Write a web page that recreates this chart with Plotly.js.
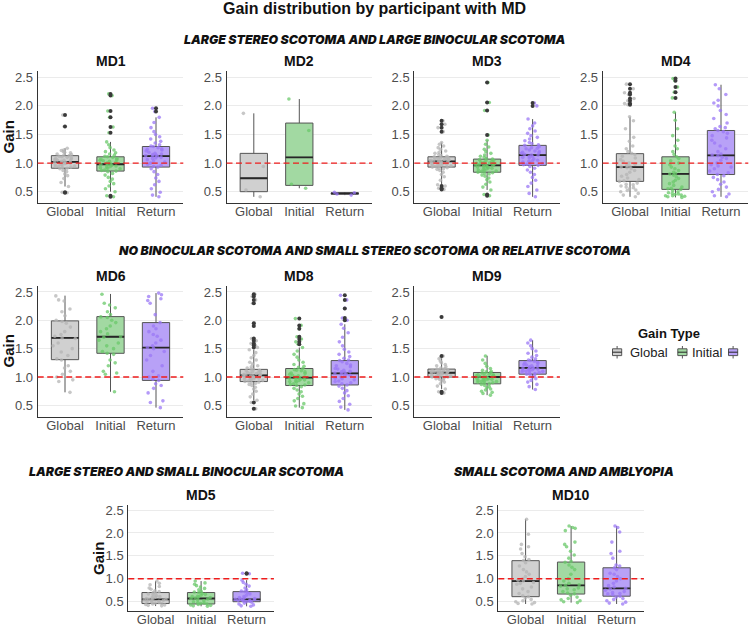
<!DOCTYPE html>
<html>
<head>
<meta charset="utf-8">
<script src="https://cdn.plot.ly/plotly-3.0.1.min.js"></script>
<style>
  html, body { margin: 0; padding: 0; background: #ffffff; }
  #chart { width: 750px; height: 626px; }
</style>
</head>
<body>
<div id="chart"></div>
<script>
// ---------- data ----------
const gainTypes = ['Global', 'Initial', 'Return'];
const yTicks = [0.5, 1.0, 1.5, 2.0, 2.5];
const yTickText = ['0.5', '1.0', '1.5', '2.0', '2.5'];
const referenceGain = 1.0;

// box statistics per gain type: [q1, median, q3, lower whisker, upper whisker]
const md1_box  = [[0.91, 1.02, 1.13, 0.59, 1.26], [0.86, 0.98, 1.11, 0.50, 1.37], [0.93, 1.12, 1.29, 0.41, 1.80]];
const md2_box  = [[0.50, 0.735, 1.17, 0.41, 1.87], [0.61, 1.10, 1.70, 0.56, 2.12], [0.455, 0.47, 0.48, 0.44, 0.49]];
const md3_box  = [[0.93, 1.03, 1.11, 0.62, 1.36], [0.84, 0.96, 1.07, 0.53, 1.40], [0.96, 1.14, 1.31, 0.41, 1.77]];
const md4_box  = [[0.68, 0.93, 1.165, 0.41, 1.81], [0.54, 0.81, 1.11, 0.40, 1.89], [0.80, 1.135, 1.57, 0.41, 2.37]];
const md6_box  = [[1.306, 1.69, 1.99, 0.73, 2.435], [1.418, 1.71, 2.065, 0.74, 2.465], [0.94, 1.52, 1.96, 0.46, 2.48]];
const md8_box  = [[0.92, 1.03, 1.135, 0.59, 1.48], [0.85, 0.99, 1.15, 0.46, 1.52], [0.86, 1.065, 1.29, 0.42, 1.93]];
const md9_box  = [[1.00, 1.075, 1.14, 0.79, 1.35], [0.88, 1.00, 1.08, 0.68, 1.375], [1.05, 1.16, 1.29, 0.78, 1.65]];
const md5_box  = [[0.46, 0.55, 0.70, 0.405, 0.95], [0.45, 0.57, 0.70, 0.40, 0.95], [0.50, 0.55, 0.72, 0.40, 0.97]];
const md10_box = [[0.61, 0.95, 1.395, 0.45, 2.30], [0.667, 0.856, 1.365, 0.48, 2.15], [0.62, 0.79, 1.24, 0.45, 2.15]];

// outlying trials per gain type
const md1_out  = [[1.84, 1.64, 0.49, 0.48], [2.21, 2.18, 1.91, 1.80, 1.63, 1.53, 0.43, 0.41], [1.96, 1.90]];
const md2_out  = [[], [], []];
const md3_out  = [[1.74, 1.68, 1.62, 1.55, 0.60, 0.56, 0.54], [2.41, 2.06, 1.92, 1.49, 0.45, 0.43], [2.05, 2.00]];
const md4_out  = [[2.38, 2.30, 2.23, 2.20, 2.13, 2.09, 2.04, 2.02], [2.48, 2.44, 2.33, 2.24, 2.14], []];
const md6_out  = [[], [], []];
const md8_out  = [[2.46, 2.42, 2.36, 2.30, 1.95, 1.90, 1.68, 1.64, 1.59, 1.56, 1.52, 0.55, 0.44],
                  [2.03, 1.91, 1.85, 1.71, 1.67, 1.62, 1.58], [2.44, 2.36, 2.21, 2.04, 2.00]];
const md9_out  = [[2.06, 1.37, 0.74, 0.72], [], []];
const md5_out  = [[], [], [1.12, 1.11]];
const md10_out = [[], [], []];

// individual trial gains
const md1_global  = [1.84,1.64,0.49,0.48,0.59,0.66,0.73,0.78,0.81,0.85,0.87,0.9,0.91,0.92,0.93,0.95,0.95,0.97,0.98,0.99,1.0,1.0,1.01,1.02,1.02,1.03,1.04,1.05,1.05,1.07,1.08,1.09,1.1,1.11,1.12,1.13,1.14,1.15,1.16,1.18,1.19,1.2,1.22,1.23,1.26,0.94,0.97,1.06];
const md1_initial = [2.21,2.18,1.91,1.8,1.63,1.53,0.43,0.41,0.5,0.55,0.6,0.64,0.68,0.72,0.75,0.79,0.82,0.85,0.86,0.88,0.9,0.91,0.93,0.94,0.96,0.97,0.98,0.99,1.0,1.02,1.03,1.05,1.06,1.08,1.1,1.11,1.12,1.14,1.16,1.18,1.2,1.23,1.27,1.32,1.37,0.87,0.95,1.04,0.92,1.07];
const md1_return  = [1.96,1.9,1.8,1.71,1.62,1.55,1.5,1.46,1.42,1.38,1.35,1.32,1.3,1.29,1.27,1.25,1.23,1.21,1.19,1.17,1.15,1.14,1.13,1.12,1.12,1.1,1.08,1.06,1.04,1.02,1.0,0.98,0.96,0.94,0.93,0.9,0.85,0.8,0.74,0.68,0.62,0.55,0.49,0.44,0.41,1.16,1.09,1.24];

const md2_global  = [0.41, 0.53, 0.94, 1.87];
const md2_initial = [0.56, 0.63, 1.57, 2.12];
const md2_return  = [0.44, 0.46, 0.48, 0.49];

const md3_global  = [1.74,1.68,1.62,1.55,0.6,0.56,0.54,0.62,0.7,0.76,0.8,0.84,0.87,0.89,0.9,0.91,0.92,0.93,0.94,0.95,0.96,0.97,0.98,0.99,1.0,1.0,1.01,1.02,1.03,1.03,1.04,1.05,1.05,1.06,1.07,1.08,1.08,1.09,1.1,1.11,1.12,1.13,1.15,1.17,1.19,1.21,1.24,1.27,1.3,1.33,1.36,0.97,1.02,1.06,0.95];
const md3_initial = [2.41,2.06,1.92,1.49,0.45,0.43,0.53,0.58,0.63,0.67,0.71,0.74,0.77,0.79,0.81,0.83,0.84,0.85,0.87,0.88,0.89,0.9,0.91,0.92,0.93,0.94,0.95,0.96,0.96,0.97,0.98,0.99,1.0,1.01,1.02,1.03,1.04,1.05,1.06,1.07,1.08,1.1,1.12,1.14,1.17,1.2,1.24,1.28,1.33,1.4,0.86,0.93,1.0,0.97,0.82];
const md3_return  = [2.05,2.0,1.77,1.7,1.65,1.6,1.56,1.52,1.48,1.45,1.42,1.39,1.36,1.34,1.32,1.31,1.29,1.27,1.25,1.23,1.21,1.2,1.18,1.17,1.15,1.14,1.14,1.12,1.1,1.09,1.07,1.05,1.03,1.02,1.0,0.98,0.97,0.96,0.94,0.91,0.88,0.84,0.8,0.75,0.7,0.65,0.59,0.53,0.47,0.41,1.19,1.11,1.26,1.04,0.99];

const md4_global  = [2.38,2.3,2.23,2.2,2.13,2.09,2.04,2.02,1.81,1.74,1.6,1.45,1.38,1.3,1.25,1.2,1.17,1.15,1.12,1.09,1.06,1.03,1.0,0.98,0.96,0.94,0.93,0.92,0.9,0.87,0.84,0.8,0.77,0.74,0.71,0.69,0.68,0.65,0.62,0.6,0.57,0.55,0.52,0.5,0.47,0.44,0.41,0.58,0.53,0.63];
const md4_initial = [2.48,2.44,2.33,2.24,2.14,1.89,1.75,1.6,1.48,1.4,1.3,1.25,1.2,1.15,1.11,1.08,1.04,1.0,0.97,0.93,0.9,0.87,0.84,0.82,0.81,0.79,0.76,0.73,0.7,0.67,0.64,0.61,0.58,0.56,0.54,0.52,0.5,0.48,0.46,0.45,0.44,0.43,0.42,0.41,0.4,0.47,0.43,0.55];
const md4_return  = [2.37,2.3,2.2,2.1,2.05,2.0,1.92,1.85,1.78,1.7,1.64,1.6,1.57,1.55,1.52,1.48,1.44,1.4,1.35,1.3,1.25,1.2,1.16,1.14,1.13,1.1,1.05,1.0,0.97,0.93,0.9,0.86,0.83,0.8,0.78,0.75,0.71,0.67,0.63,0.58,0.54,0.5,0.46,0.43,0.41,1.62,1.08,0.95];

const md6_global  = [2.43,2.36,2.34,2.2,2.15,2.08,2.0,1.98,1.95,1.88,1.8,1.75,1.72,1.69,1.68,1.6,1.55,1.5,1.44,1.38,1.32,1.3,1.2,1.16,1.1,1.05,1.0,0.95,0.92,0.73];
const md6_initial = [2.46,2.3,2.27,2.22,2.15,2.1,2.06,2.05,2.0,1.96,1.9,1.85,1.8,1.76,1.71,1.7,1.65,1.6,1.55,1.5,1.45,1.42,1.4,1.3,1.25,1.2,1.1,1.07,1.05,0.74];
const md6_return  = [2.48,2.45,2.42,2.38,2.35,2.3,2.1,1.96,1.9,1.85,1.8,1.72,1.65,1.6,1.55,1.52,1.5,1.45,1.38,1.3,1.2,1.1,1.02,0.96,0.94,0.88,0.85,0.8,0.72,0.58,0.55,0.46,1.0,1.75];

const md8_global  = [2.46,2.42,2.36,2.3,1.95,1.9,1.68,1.64,1.59,1.56,1.52,0.55,0.44,0.59,0.65,0.7,0.75,0.79,0.82,0.85,0.87,0.89,0.9,0.91,0.92,0.93,0.94,0.95,0.96,0.97,0.98,0.99,1.0,1.0,1.01,1.02,1.03,1.03,1.04,1.05,1.06,1.07,1.08,1.09,1.1,1.11,1.12,1.13,1.14,1.16,1.18,1.2,1.23,1.26,1.3,1.34,1.38,1.43,1.48,0.96,1.05,1.01,0.99,1.08];
const md8_initial = [2.03,1.91,1.85,1.71,1.67,1.62,1.58,1.52,1.46,1.4,1.35,1.3,1.26,1.22,1.19,1.17,1.15,1.13,1.11,1.09,1.07,1.05,1.03,1.02,1.0,0.99,0.98,0.97,0.95,0.94,0.92,0.9,0.88,0.86,0.85,0.83,0.8,0.77,0.74,0.7,0.66,0.62,0.58,0.53,0.49,0.46,1.0,0.96,1.06,0.91,1.12,0.87,0.93];
const md8_return  = [2.44,2.36,2.21,2.04,2.0,1.93,1.86,1.78,1.7,1.62,1.55,1.49,1.44,1.4,1.36,1.33,1.3,1.29,1.27,1.24,1.21,1.18,1.15,1.12,1.1,1.08,1.07,1.06,1.05,1.02,1.0,0.98,0.95,0.92,0.9,0.88,0.86,0.84,0.8,0.76,0.72,0.67,0.62,0.57,0.52,0.47,0.42,1.14,1.03,0.97,1.2,1.09,0.93];

const md9_global  = [2.06,1.37,0.74,0.72,0.79,0.84,0.88,0.91,0.93,0.95,0.96,0.97,0.98,0.99,1.0,1.0,1.01,1.02,1.03,1.04,1.05,1.05,1.06,1.07,1.07,1.08,1.08,1.09,1.1,1.1,1.11,1.12,1.13,1.13,1.14,1.15,1.16,1.18,1.2,1.22,1.25,1.28,1.32,1.35,1.03,1.09,1.06];
const md9_initial = [1.37,1.3,1.24,1.19,1.15,1.12,1.1,1.09,1.08,1.07,1.06,1.05,1.04,1.03,1.02,1.01,1.0,1.0,0.99,0.98,0.97,0.96,0.95,0.94,0.93,0.92,0.91,0.9,0.89,0.88,0.87,0.85,0.83,0.81,0.79,0.77,0.75,0.73,0.71,0.68,1.0,0.96,1.04,0.92,0.98];
const md9_return  = [1.65,1.6,1.55,1.5,1.46,1.42,1.38,1.35,1.32,1.3,1.29,1.28,1.26,1.24,1.22,1.2,1.19,1.18,1.17,1.16,1.16,1.15,1.14,1.13,1.12,1.11,1.1,1.09,1.08,1.07,1.06,1.05,1.04,1.02,1.0,0.97,0.94,0.91,0.87,0.83,0.78,1.21,1.13,1.25,1.1];

const md5_global  = [0.95,0.9,0.87,0.83,0.8,0.77,0.74,0.72,0.7,0.69,0.67,0.65,0.63,0.61,0.59,0.57,0.56,0.55,0.54,0.53,0.52,0.51,0.5,0.49,0.48,0.47,0.46,0.45,0.44,0.43,0.42,0.41,0.55,0.6];
const md5_initial = [0.95,0.91,0.88,0.85,0.82,0.79,0.76,0.73,0.71,0.7,0.68,0.66,0.64,0.62,0.6,0.58,0.57,0.56,0.54,0.52,0.5,0.48,0.47,0.46,0.45,0.44,0.43,0.42,0.41,0.4,0.59,0.61];
const md5_return  = [1.12,1.11,0.97,0.92,0.88,0.84,0.8,0.76,0.73,0.72,0.7,0.67,0.64,0.61,0.59,0.57,0.56,0.55,0.55,0.54,0.53,0.52,0.51,0.5,0.49,0.47,0.45,0.43,0.41,0.4,0.58,0.53];

const md10_global  = [2.3,1.97,1.75,1.7,1.65,1.55,1.48,1.42,1.4,1.35,1.28,1.2,1.1,1.05,1.0,0.97,0.95,0.92,0.88,0.82,0.78,0.72,0.68,0.63,0.61,0.58,0.55,0.52,0.5,0.48,0.46,0.45,0.9,1.15];
const md10_initial = [2.15,2.12,2.1,2.05,1.8,1.75,1.7,1.6,1.52,1.45,1.38,1.36,1.3,1.2,1.1,1.0,0.95,0.9,0.87,0.86,0.84,0.8,0.76,0.72,0.69,0.67,0.64,0.6,0.57,0.54,0.52,0.5,0.48,1.25,0.78];
const md10_return  = [2.15,2.12,2.02,1.8,1.6,1.55,1.45,1.3,1.28,1.24,1.2,1.12,1.05,1.0,0.95,0.9,0.85,0.82,0.79,0.78,0.75,0.72,0.7,0.68,0.65,0.62,0.6,0.57,0.55,0.52,0.49,0.47,0.45,1.1,0.67];

// ---------- page geometry (pixels) ----------
const W = 750, H = 626;
const PANEL_W = 145.6;
const fx = x => x / W;
const fy = y => 1 - y / H;

// left edge, top, bottom of each panel's plotting area
const panels = [
  { name: 'MD1',  left: 37.7,  top: 71.3,  bottom: 203.4, box: md1_box,  out: md1_out,  pts: [md1_global, md1_initial, md1_return] },
  { name: 'MD2',  left: 226.5, top: 71.3,  bottom: 203.4, box: md2_box,  out: md2_out,  pts: [md2_global, md2_initial, md2_return] },
  { name: 'MD3',  left: 414.3, top: 71.3,  bottom: 203.4, box: md3_box,  out: md3_out,  pts: [md3_global, md3_initial, md3_return] },
  { name: 'MD4',  left: 602.7, top: 71.3,  bottom: 203.4, box: md4_box,  out: md4_out,  pts: [md4_global, md4_initial, md4_return] },
  { name: 'MD6',  left: 37.7,  top: 286.0, bottom: 417.0, box: md6_box,  out: md6_out,  pts: [md6_global, md6_initial, md6_return] },
  { name: 'MD8',  left: 226.5, top: 286.0, bottom: 417.0, box: md8_box,  out: md8_out,  pts: [md8_global, md8_initial, md8_return] },
  { name: 'MD9',  left: 414.3, top: 286.0, bottom: 417.0, box: md9_box,  out: md9_out,  pts: [md9_global, md9_initial, md9_return] },
  { name: 'MD5',  left: 128.3, top: 505.2, bottom: 611.1, box: md5_box,  out: md5_out,  pts: [md5_global, md5_initial, md5_return] },
  { name: 'MD10', left: 498.3, top: 505.2, bottom: 611.1, box: md10_box, out: md10_out, pts: [md10_global, md10_initial, md10_return] }
];

// ---------- styling ----------
const FONT = 'Liberation Sans, Arial, Helvetica, sans-serif';
const HEAVY = 'Inter, Lato, sans-serif';
const boxFill   = ['#d0d0d0', '#a2d9a2', '#b8a1f7'];
const pointFill = ['rgba(180,180,180,0.75)', 'rgba(106,200,106,0.75)', 'rgba(155,120,246,0.75)'];
const boxLine = '#555555';

const traces = [];
const layout = {
  width: W, height: H,
  margin: { l: 0, r: 0, t: 0, b: 0 },
  paper_bgcolor: '#ffffff',
  plot_bgcolor: 'rgba(0,0,0,0)',
  showlegend: false,
  boxmode: 'overlay',
  hovermode: false,
  font: { family: FONT, color: '#4d4d4d' },
  shapes: [],
  annotations: []
};

panels.forEach((p, i) => {
  const n = i + 1;
  const xa = 'x' + (n === 1 ? '' : n);
  const ya = 'y' + (n === 1 ? '' : n);
  const xKey = 'xaxis' + (n === 1 ? '' : n);
  const yKey = 'yaxis' + (n === 1 ? '' : n);

  layout[xKey] = {
    domain: [fx(p.left), fx(p.left + PANEL_W)],
    anchor: ya,
    type: 'category',
    categoryorder: 'array',
    categoryarray: gainTypes,
    range: [-0.6, 2.6],
    showline: true, linecolor: '#333333', linewidth: 1,
    ticks: '', ticklabelstandoff: -4,
    tickfont: { family: FONT, size: 13, color: '#4d4d4d' },
    showgrid: false, zeroline: false, fixedrange: true
  };
  layout[yKey] = {
    domain: [fy(p.bottom), fy(p.top)],
    anchor: xa,
    range: [0.295, 2.605],
    tickvals: yTicks,
    ticktext: yTickText,
    showline: true, linecolor: '#333333', linewidth: 1,
    ticks: '', ticklabelstandoff: 1,
    tickfont: { family: FONT, size: 13, color: '#4d4d4d' },
    showgrid: true, gridcolor: '#ebebeb', gridwidth: 1,
    zeroline: false, fixedrange: true
  };

  gainTypes.forEach((g, k) => {
    const [q1, med, q3, lo, hi] = p.box[k];
    // box body and whiskers
    traces.push({
      type: 'box', orientation: 'v', xaxis: xa, yaxis: ya,
      x: [g], q1: [q1], median: [med], q3: [q3], lowerfence: [lo], upperfence: [hi],
      width: 0.6, whiskerwidth: 0, boxpoints: false,
      fillcolor: boxFill[k], line: { color: boxLine, width: 1 },
      hoverinfo: 'skip'
    });
    // thicker median bar
    traces.push({
      type: 'box', orientation: 'v', xaxis: xa, yaxis: ya,
      x: [g], q1: [med], median: [med], q3: [med], lowerfence: [med], upperfence: [med],
      width: 0.6, whiskerwidth: 0, boxpoints: false,
      fillcolor: 'rgba(0,0,0,0)', line: { color: '#262626', width: 1.8 },
      hoverinfo: 'skip'
    });
    // outlier markers on the box centre line
    if (p.out[k].length) {
      traces.push({
        type: 'scatter', mode: 'markers', xaxis: xa, yaxis: ya,
        x: p.out[k].map(() => g), y: p.out[k],
        marker: { color: '#3a3a3a', size: 4 },
        hoverinfo: 'skip'
      });
    }
    // jittered individual trials
    traces.push({
      type: 'box', orientation: 'v', xaxis: xa, yaxis: ya,
      x: p.pts[k].map(() => g), y: p.pts[k],
      width: 0.6, boxpoints: 'all', jitter: 0.9, pointpos: 0,
      fillcolor: 'rgba(0,0,0,0)', line: { color: 'rgba(0,0,0,0)', width: 0 },
      marker: { color: pointFill[k], size: 3.6 },
      hoverinfo: 'skip'
    });
  });

  // reference gain of 1.0
  layout.shapes.push({
    type: 'line', xref: xa + ' domain', yref: ya,
    x0: 0, x1: 1, y0: referenceGain, y1: referenceGain,
    line: { color: '#ee1c1c', width: 1.4, dash: '6px,3.5px' },
    layer: 'above'
  });

  // panel title
  layout.annotations.push({
    text: '<b>' + p.name + '</b>', xref: 'paper', yref: 'paper',
    x: fx(p.left + PANEL_W / 2), y: fy(p.top - 10.5),
    xanchor: 'center', yanchor: 'middle', showarrow: false,
    font: { family: FONT, size: 14, color: '#111111' }
  });
});

// y-axis titles for the first panel of each row
[[8, 137.4], [8, 351.5], [97.8, 558.2]].forEach(([x, y]) => {
  layout.annotations.push({
    text: '<b>Gain</b>', xref: 'paper', yref: 'paper',
    x: fx(x), y: fy(y), xanchor: 'center', yanchor: 'middle',
    textangle: -90, showarrow: false,
    font: { family: FONT, size: 15, color: '#111111' }
  });
});

// main title
layout.annotations.push({
  text: '<b>Gain distribution by participant with MD</b>', xref: 'paper', yref: 'paper',
  x: fx(374.5), y: fy(8.5), xanchor: 'center', yanchor: 'middle', showarrow: false,
  font: { family: FONT, size: 16, color: '#111111' }
});

// group headings
const groupHeadings = [
  ['LARGE STEREO SCOTOMA AND LARGE BINOCULAR SCOTOMA', 374.5, 39.7],
  ['NO BINOCULAR SCOTOMA AND SMALL STEREO SCOTOMA OR RELATIVE SCOTOMA', 374.5, 250.5],
  ['LARGE STEREO AND SMALL BINOCULAR SCOTOMA', 186.7, 471.3],
  ['SMALL SCOTOMA AND AMBLYOPIA', 563.3, 471.3]
];
groupHeadings.forEach(([t, x, y]) => {
  layout.annotations.push({
    text: t, xref: 'paper', yref: 'paper', x: fx(x), y: fy(y),
    xanchor: 'center', yanchor: 'middle', showarrow: false,
    font: { family: HEAVY, size: 12.3, color: '#111111', weight: 900, style: 'italic' }
  });
});

// legend: "Gain Type"
layout.annotations.push({
  text: '<b>Gain Type</b>', xref: 'paper', yref: 'paper',
  x: fx(669), y: fy(333), xanchor: 'center', yanchor: 'middle', showarrow: false,
  font: { family: FONT, size: 13, color: '#111111' }
});
const legendKeys = [
  { left: 612.5, label: 'Global', labelX: 628 },
  { left: 677.8, label: 'Initial', labelX: 690 },
  { left: 728.5, label: null, labelX: null }
];
legendKeys.forEach((k, i) => {
  const cx = k.left + 4.6;
  layout.shapes.push({
    type: 'line', xref: 'paper', yref: 'paper',
    x0: fx(cx), x1: fx(cx), y0: fy(346), y1: fy(358.5),
    line: { color: boxLine, width: 1 }
  });
  layout.shapes.push({
    type: 'rect', xref: 'paper', yref: 'paper',
    x0: fx(k.left), x1: fx(k.left + 9.2), y0: fy(348.8), y1: fy(355.6),
    fillcolor: boxFill[i], line: { color: boxLine, width: 1 }
  });
  layout.shapes.push({
    type: 'line', xref: 'paper', yref: 'paper',
    x0: fx(k.left), x1: fx(k.left + 9.2), y0: fy(352.2), y1: fy(352.2),
    line: { color: '#262626', width: 1 }
  });
  if (k.label) {
    layout.annotations.push({
      text: k.label, xref: 'paper', yref: 'paper',
      x: fx(k.labelX), y: fy(352.2), xanchor: 'left', yanchor: 'middle', showarrow: false,
      font: { family: FONT, size: 13, color: '#222222' }
    });
  }
});

Plotly.newPlot('chart', traces, layout, { staticPlot: true, displayModeBar: false });
</script>
</body>
</html>
